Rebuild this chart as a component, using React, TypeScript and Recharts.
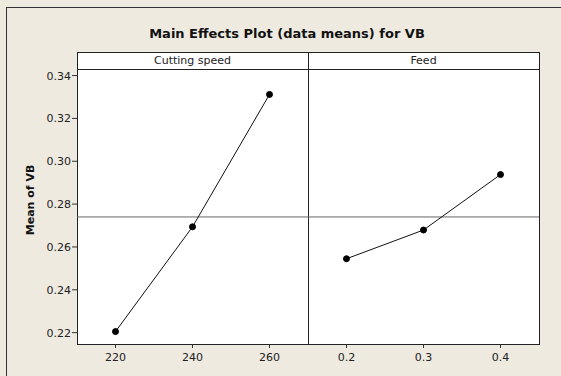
import React from "react";
import { LineChart, Line, XAxis, YAxis, ReferenceLine } from "recharts";

// factor levels and the mean of VB at each level
const speedLevels = [220, 240, 260];
const speedMeans = [0.2205, 0.2694, 0.3312];
const feedLevels = [0.2, 0.3, 0.4];
const feedMeans = [0.2545, 0.2679, 0.2938];

const yTicks = [0.22, 0.24, 0.26, 0.28, 0.3, 0.32, 0.34];
const grandMean = 0.274;
const panelTitles = ["Cutting speed", "Feed"];

const BG = "#eeeae0";
const FONT = "'DejaVu Sans', Verdana, sans-serif";
const Y_DOMAIN: [number, number] = [0.2147, 0.3426];

const speedData = speedLevels.map((x, i) => ({ x, y: speedMeans[i] }));
const feedData = feedLevels.map((x, i) => ({ x, y: feedMeans[i] }));

const tickStyle = { fill: "#222", fontSize: 11, fontFamily: FONT };

export default function App() {
  return (
    <div
      style={{
        position: "absolute",
        left: 0,
        top: 0,
        width: 561,
        height: 376,
        background: BG,
        overflow: "hidden",
        fontFamily: FONT,
      }}
    >
      <style>{"body{margin:0;overflow:hidden}"}</style>
      {/* outer frame: only the top and left edges show */}
      <div style={{ position: "absolute", left: 6, top: 7, width: 555, height: 1, background: "#333" }} />
      <div style={{ position: "absolute", left: 6, top: 7, width: 1, height: 369, background: "#333" }} />
      <div
        style={{
          position: "absolute",
          left: 0,
          top: 26,
          width: 574,
          textAlign: "center",
          fontWeight: "bold",
          fontSize: 13,
          color: "#111",
        }}
      >
        Main Effects Plot (data means) for VB
      </div>

      {/* panel frame */}
      <div
        style={{
          position: "absolute",
          left: 77,
          top: 52,
          width: 463,
          height: 293,
          boxSizing: "border-box",
          border: "1px solid #222",
          background: "#fff",
        }}
      />
      <div style={{ position: "absolute", left: 77, top: 69, width: 463, height: 1, background: "#222" }} />
      <div style={{ position: "absolute", left: 308, top: 52, width: 1, height: 293, background: "#222" }} />
      {panelTitles.map((t, i) => (
        <div
          key={t}
          style={{
            position: "absolute",
            left: i === 0 ? 77 : 308,
            top: 53,
            width: 231,
            height: 16,
            lineHeight: "16px",
            textAlign: "center",
            fontSize: 11,
            color: "#222",
          }}
        >
          {t}
        </div>
      ))}

      <div
        style={{
          position: "absolute",
          left: 31 - 50,
          top: 200 - 8,
          width: 100,
          height: 16,
          lineHeight: "16px",
          textAlign: "center",
          fontWeight: "bold",
          fontSize: 11,
          color: "#111",
          transform: "rotate(-90deg)",
        }}
      >
        Mean of VB
      </div>

      <div style={{ position: "absolute", left: 0, top: 70 }}>
        <LineChart width={308} height={304} data={speedData} margin={{ top: 0, right: 0, bottom: 0, left: 0 }}>
          <XAxis
            dataKey="x"
            type="number"
            domain={[210, 270]}
            ticks={speedLevels}
            axisLine={false}
            tickLine={{ stroke: "#333" }}
            tickSize={4}
            tickMargin={5}
            height={30}
            tick={tickStyle}
          />
          <YAxis
            type="number"
            domain={Y_DOMAIN}
            ticks={yTicks}
            tickFormatter={(v: number) => v.toFixed(2)}
            axisLine={false}
            tickLine={{ stroke: "#333" }}
            tickSize={5}
            tickMargin={1}
            width={77}
            tick={tickStyle}
          />
          <ReferenceLine y={grandMean} stroke="#666" strokeWidth={1} />
          <Line
            dataKey="y"
            stroke="#111"
            strokeWidth={1}
            dot={{ r: 3, fill: "#000", stroke: "#000", strokeWidth: 1 }}
            isAnimationActive={false}
          />
        </LineChart>
      </div>

      <div style={{ position: "absolute", left: 308, top: 70 }}>
        <LineChart width={231} height={304} data={feedData} margin={{ top: 0, right: 0, bottom: 0, left: 0 }}>
          <XAxis
            dataKey="x"
            type="number"
            domain={[0.15, 0.45]}
            ticks={feedLevels}
            tickFormatter={(v: number) => v.toFixed(1)}
            axisLine={false}
            tickLine={{ stroke: "#333" }}
            tickSize={4}
            tickMargin={5}
            height={30}
            tick={tickStyle}
          />
          <YAxis type="number" domain={Y_DOMAIN} hide />
          <ReferenceLine y={grandMean} stroke="#666" strokeWidth={1} />
          <Line
            dataKey="y"
            stroke="#111"
            strokeWidth={1}
            dot={{ r: 3, fill: "#000", stroke: "#000", strokeWidth: 1 }}
            isAnimationActive={false}
          />
        </LineChart>
      </div>
    </div>
  );
}
